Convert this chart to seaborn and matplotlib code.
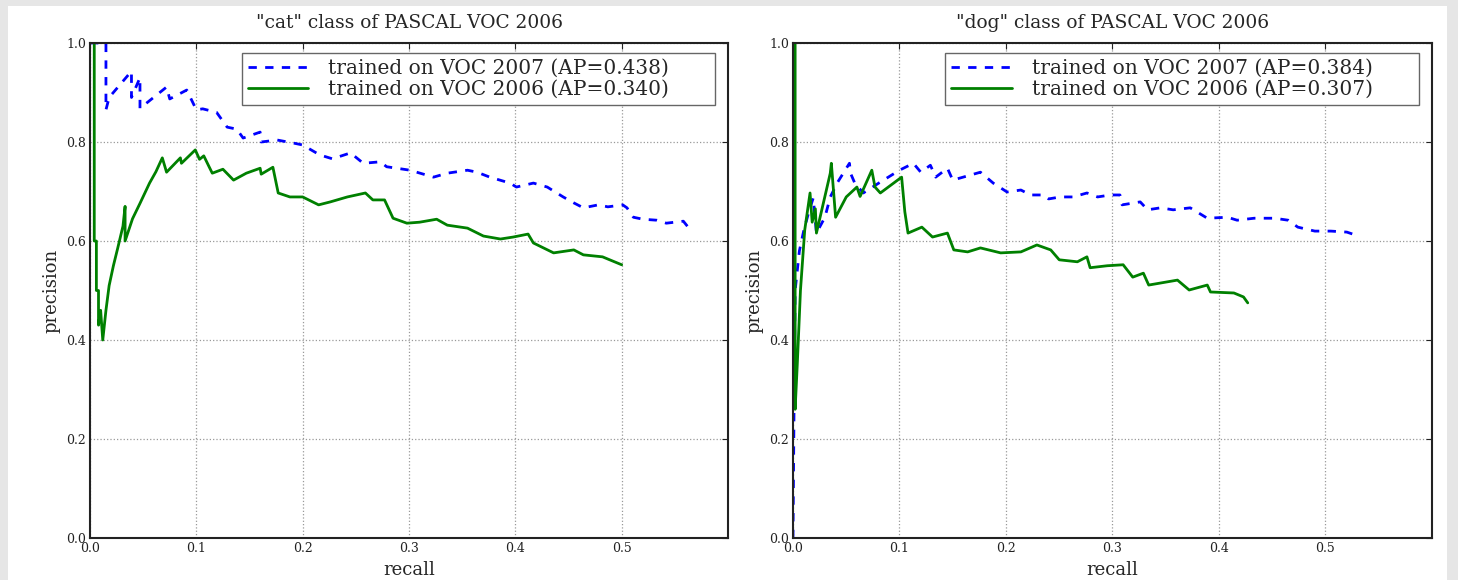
import matplotlib
matplotlib.use('Agg')
import matplotlib.pyplot as plt
import seaborn as sns
from matplotlib.patches import Rectangle

# precision / recall curves
cat_07_recall = [0.0, 0.015, 0.015, 0.018, 0.039, 0.039, 0.047, 0.047, 0.072, 0.075, 0.091, 0.1,
                 0.106, 0.119, 0.129, 0.138, 0.144, 0.16, 0.161, 0.176, 0.191, 0.2, 0.216, 0.228,
                 0.245, 0.257, 0.273, 0.279, 0.301, 0.323, 0.336, 0.355, 0.364, 0.376, 0.395, 0.401,
                 0.417, 0.43, 0.445, 0.455, 0.464, 0.478, 0.487, 0.501, 0.505, 0.511, 0.52, 0.533,
                 0.542, 0.558, 0.564]
cat_07_prec = [1.0, 1.0, 0.865, 0.89, 0.943, 0.89, 0.93, 0.868, 0.911, 0.887, 0.905, 0.865,
               0.867, 0.86, 0.83, 0.826, 0.808, 0.82, 0.8, 0.804, 0.798, 0.794, 0.774, 0.766,
               0.778, 0.757, 0.76, 0.75, 0.743, 0.729, 0.737, 0.743, 0.739, 0.729, 0.717, 0.709,
               0.717, 0.709, 0.689, 0.677, 0.667, 0.673, 0.669, 0.673, 0.667, 0.648, 0.644, 0.642,
               0.636, 0.64, 0.624]

cat_06_recall = [0.004, 0.004, 0.006, 0.006, 0.008, 0.008, 0.01, 0.012, 0.015, 0.018, 0.022, 0.026,
                 0.031, 0.033, 0.033, 0.04, 0.047, 0.056, 0.062, 0.068, 0.072, 0.085, 0.086, 0.099,
                 0.103, 0.107, 0.112, 0.115, 0.125, 0.135, 0.147, 0.16, 0.161, 0.172, 0.177, 0.188,
                 0.2, 0.215, 0.226, 0.242, 0.259, 0.266, 0.277, 0.285, 0.298, 0.31, 0.326, 0.336,
                 0.355, 0.37, 0.386, 0.398, 0.412, 0.417, 0.436, 0.455, 0.464, 0.482, 0.5]
cat_06_prec = [1.0, 0.6, 0.6, 0.5, 0.5, 0.43, 0.46, 0.4, 0.46, 0.51, 0.55, 0.585,
               0.63, 0.67, 0.6, 0.645, 0.676, 0.717, 0.74, 0.768, 0.739, 0.768, 0.757, 0.784,
               0.765, 0.772, 0.75, 0.737, 0.745, 0.723, 0.737, 0.747, 0.735, 0.749, 0.697, 0.689,
               0.689, 0.673, 0.679, 0.689, 0.697, 0.683, 0.683, 0.646, 0.636, 0.638, 0.644, 0.632,
               0.626, 0.61, 0.604, 0.608, 0.614, 0.596, 0.576, 0.582, 0.572, 0.568, 0.552]

dog_07_recall = [0.0, 0.001, 0.002, 0.006, 0.01, 0.015, 0.019, 0.022, 0.03, 0.035, 0.042, 0.053,
                 0.054, 0.058, 0.066, 0.082, 0.1, 0.113, 0.12, 0.129, 0.134, 0.145, 0.15, 0.176,
                 0.188, 0.201, 0.214, 0.223, 0.235, 0.24, 0.251, 0.263, 0.276, 0.286, 0.298, 0.307,
                 0.309, 0.326, 0.333, 0.345, 0.357, 0.373, 0.389, 0.408, 0.417, 0.433, 0.452, 0.465,
                 0.474, 0.49, 0.505, 0.52, 0.531]
dog_07_prec = [0.0, 0.27, 0.5, 0.58, 0.62, 0.66, 0.687, 0.616, 0.648, 0.689, 0.719, 0.757,
               0.737, 0.717, 0.697, 0.719, 0.743, 0.757, 0.739, 0.753, 0.729, 0.747, 0.723, 0.739,
               0.717, 0.699, 0.703, 0.693, 0.693, 0.685, 0.689, 0.689, 0.697, 0.689, 0.693, 0.693,
               0.673, 0.679, 0.663, 0.667, 0.663, 0.667, 0.646, 0.648, 0.642, 0.646, 0.646, 0.642,
               0.628, 0.62, 0.62, 0.618, 0.61]

dog_06_recall = [0.002, 0.002, 0.004, 0.007, 0.011, 0.016, 0.018, 0.021, 0.022, 0.035, 0.036, 0.04,
                 0.05, 0.06, 0.063, 0.074, 0.077, 0.082, 0.102, 0.105, 0.108, 0.121, 0.131, 0.145,
                 0.151, 0.164, 0.176, 0.195, 0.214, 0.229, 0.242, 0.25, 0.267, 0.276, 0.279, 0.295,
                 0.31, 0.319, 0.329, 0.334, 0.361, 0.372, 0.389, 0.392, 0.414, 0.423, 0.427]
dog_06_prec = [1.0, 0.26, 0.35, 0.5, 0.622, 0.697, 0.638, 0.665, 0.616, 0.737, 0.757, 0.648,
               0.689, 0.709, 0.69, 0.743, 0.709, 0.697, 0.729, 0.659, 0.616, 0.628, 0.608, 0.616,
               0.582, 0.578, 0.586, 0.576, 0.578, 0.592, 0.582, 0.562, 0.558, 0.568, 0.546, 0.55,
               0.552, 0.527, 0.535, 0.511, 0.521, 0.501, 0.511, 0.497, 0.495, 0.487, 0.475]

titles = ['"cat" class of PASCAL VOC 2006', '"dog" class of PASCAL VOC 2006']
labels_07 = ['trained on VOC 2007 (AP=0.438)', 'trained on VOC 2007 (AP=0.384)']
labels_06 = ['trained on VOC 2006 (AP=0.340)', 'trained on VOC 2006 (AP=0.307)']
xticks = [0.0, 0.1, 0.2, 0.3, 0.4, 0.5]
yticks = [0.0, 0.2, 0.4, 0.6, 0.8, 1.0]

sns.set_style('white')
plt.rcParams['font.family'] = ['DejaVu Serif']

fig = plt.figure(figsize=(14.58, 5.8), dpi=100, facecolor='white')
# grey screenshot frame round the white page
fig.patches.append(Rectangle((0, 0), 8 / 1458, 1, transform=fig.transFigure,
                             facecolor='#e6e6e6', edgecolor='none'))
fig.patches.append(Rectangle((1447 / 1458, 0), 11 / 1458, 1, transform=fig.transFigure,
                             facecolor='#e6e6e6', edgecolor='none'))
fig.patches.append(Rectangle((0, 574 / 580), 1, 6 / 580, transform=fig.transFigure,
                             facecolor='#e6e6e6', edgecolor='none'))

ax1 = fig.add_axes([90 / 1458, 42 / 580, 638 / 1458, 495 / 580])
ax2 = fig.add_axes([793 / 1458, 42 / 580, 639 / 1458, 495 / 580])

series = [(cat_07_recall, cat_07_prec, cat_06_recall, cat_06_prec),
          (dog_07_recall, dog_07_prec, dog_06_recall, dog_06_prec)]

for i, ax in enumerate([ax1, ax2]):
    r07, p07, r06, p06 = series[i]
    sns.lineplot(x=r07, y=p07, ax=ax, estimator=None, sort=False, color='blue',
                 linewidth=2, linestyle=(0, (3, 3)), label=labels_07[i])
    sns.lineplot(x=r06, y=p06, ax=ax, estimator=None, sort=False, color='#008000',
                 linewidth=2, label=labels_06[i])

    ax.set_xlim(0, 0.6)
    ax.set_ylim(0, 1.0)
    ax.set_xticks(xticks)
    ax.set_yticks(yticks)
    ax.set_xticklabels(['%.1f' % t for t in xticks])
    ax.set_yticklabels(['%.1f' % t for t in yticks])
    ax.tick_params(direction='in', top=True, right=True, length=4, width=0.8,
                   labelsize=9, pad=3, colors='#222222')
    ax.grid(True, linestyle=':', color='#999999', linewidth=0.9)
    for s in ax.spines.values():
        s.set_color('#222222')
        s.set_linewidth(1.5)

    ax.set_title(titles[i], fontsize=13.4, pad=11)
    ax.set_xlabel('recall', fontsize=13, labelpad=4)
    ax.set_ylabel('precision', fontsize=13, labelpad=4)

    # old-style legend: box stretched wider than its text
    leg = ax.legend(loc='upper left', bbox_to_anchor=(0.238, 0.5, 0.741, 0.48), mode='expand',
                    borderaxespad=0, fontsize=14.5, fancybox=False, framealpha=1,
                    edgecolor='#666666', handlelength=3.0, handletextpad=1.0,
                    borderpad=0.3, labelspacing=0.1)
    leg.get_frame().set_linewidth(1)

fig.savefig('out.png', dpi=100, facecolor=fig.get_facecolor())
